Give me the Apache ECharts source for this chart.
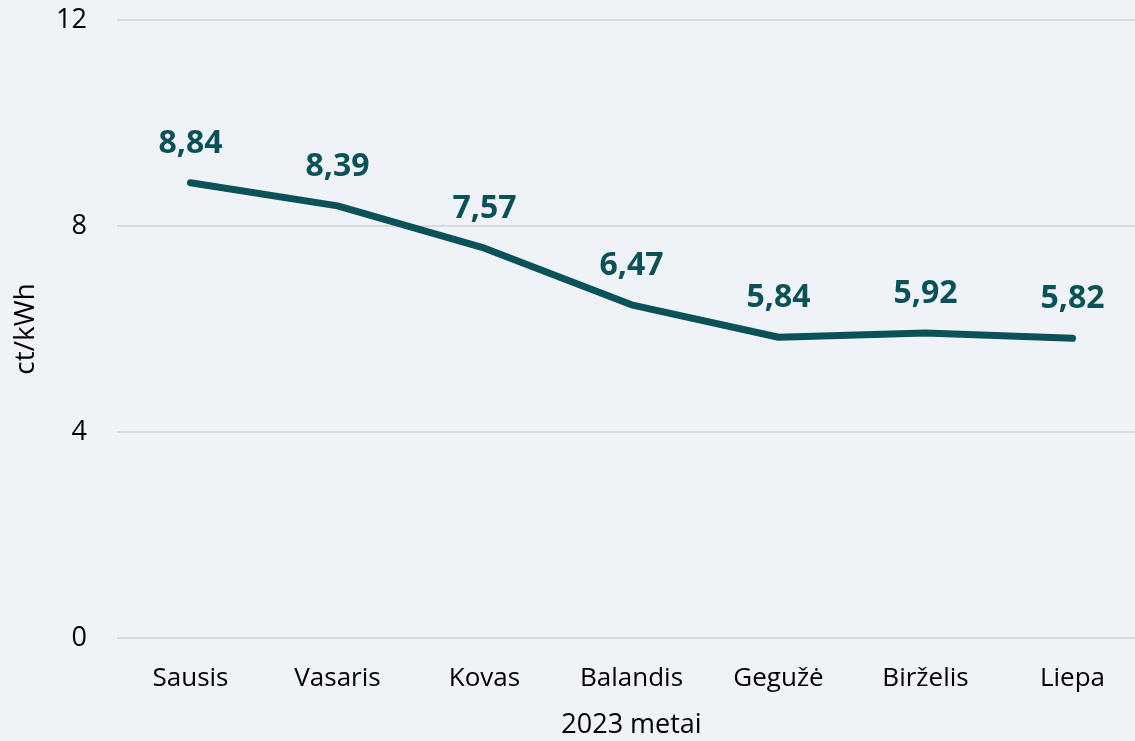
<!DOCTYPE html>
<html>
<head>
<meta charset="utf-8">
<script src="https://cdn.jsdelivr.net/npm/echarts@6/dist/echarts.min.js"></script>
<style>
  html, body { margin: 0; padding: 0; background: #eff3f7; }
  #chart { width: 1135px; height: 741px; }
</style>
</head>
<body>
<div id="chart"></div>
<script>
const months = ["Sausis", "Vasaris", "Kovas", "Balandis", "Gegužė", "Birželis", "Liepa"];
const prices = [8.84, 8.39, 7.57, 6.47, 5.84, 5.92, 5.82];
const yTicks = [0, 4, 8, 12];

const font = "'Open Sans', sans-serif";
const chart = echarts.init(document.getElementById("chart"));
chart.setOption({
  backgroundColor: "#eff3f7",
  animation: false,
  grid: { left: 117, width: 1029, top: 20, bottom: 103, outerBoundsMode: "none" },
  xAxis: {
    type: "category",
    data: months,
    boundaryGap: true,
    name: "2023 metai",
    nameLocation: "middle",
    nameGap: 74,
    nameTextStyle: { fontFamily: font, fontSize: 27, color: "#000" },
    axisLine: { show: false },
    axisTick: { show: false },
    axisLabel: { fontFamily: font, fontSize: 26, color: "#000", margin: 28 }
  },
  yAxis: {
    type: "value",
    min: yTicks[0],
    max: yTicks[yTicks.length - 1],
    interval: 4,
    name: "ct/kWh",
    nameLocation: "middle",
    nameGap: 77,
    nameTextStyle: { fontFamily: font, fontSize: 28, color: "#000" },
    axisLine: { show: false },
    axisTick: { show: false },
    axisLabel: { fontFamily: font, fontSize: 27, color: "#000", margin: 30 },
    splitLine: { lineStyle: { color: "#d9d9d9", width: 2 } }
  },
  series: [{
    type: "line",
    data: prices,
    symbol: "circle",
    symbolSize: 2,
    itemStyle: { color: "rgba(0,0,0,0)" },
    lineStyle: { color: "#0b5258", width: 7, cap: "round", join: "round" },
    label: {
      show: true,
      position: "top",
      distance: 22,
      fontFamily: font,
      fontSize: 32,
      fontWeight: "bold",
      color: "#0b5258",
      formatter: p => p.value.toFixed(2).replace(".", ",")
    }
  }]
});
</script>
</body>
</html>
